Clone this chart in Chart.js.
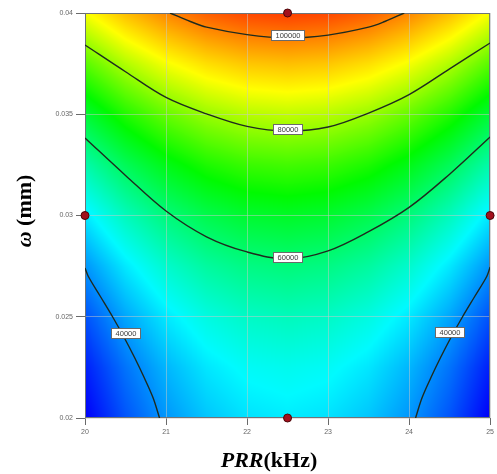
<!DOCTYPE html>
<html>
<head>
<meta charset="utf-8">
<title>Removal rate contour: PRR vs spot diameter</title>
<script src="https://cdn.jsdelivr.net/npm/chart.js@4.4.1/dist/chart.umd.min.js"></script>
<style>
  html, body { margin: 0; padding: 0; background: #ffffff; }
  #wrap { width: 497px; height: 474px; }
</style>
</head>
<body>
<div id="wrap"><canvas id="chart" width="497" height="474"></canvas></div>
<script>
// Axis ticks
const prrTicks = [20, 21, 22, 23, 24, 25];
const omegaTicks = [0.02, 0.025, 0.03, 0.035, 0.04];

// Response surface sampled on a regular grid (rows: omega, cols: PRR)
const gridPRR = [20, 20.5, 21, 21.5, 22, 22.5, 23, 23.5, 24, 24.5, 25];
const gridOmega = [0.02, 0.0225, 0.025, 0.0275, 0.03, 0.0325, 0.035, 0.0375, 0.04];
const gridValues = [
  [28800, 35500, 40700, 44400, 46600, 47400, 46600, 44400, 40700, 35500, 28800],
  [31300, 38000, 43200, 47000, 49200, 49900, 49200, 47000, 43200, 38000, 31300],
  [35300, 42000, 47200, 50900, 53100, 53900, 53100, 50900, 47200, 42000, 35300],
  [40600, 47200, 52500, 56200, 58400, 59200, 58400, 56200, 52500, 47200, 40600],
  [47200, 53900, 59100, 62800, 65100, 65800, 65100, 62800, 59100, 53900, 47200],
  [55200, 61900, 67100, 70900, 73100, 73800, 73100, 70900, 67100, 61900, 55200],
  [64600, 71300, 76500, 80300, 82500, 83200, 82500, 80300, 76500, 71300, 64600],
  [75400, 82100, 87300, 91000, 93300, 94000, 93300, 91000, 87300, 82100, 75400],
  [87500, 94200, 99400, 103200, 105400, 106100, 105400, 103200, 99400, 94200, 87500]
];

// Contour lines, [PRR, omega] pairs
const contour100000 = [[21.05, 0.0400], [21.3, 0.03958], [21.5, 0.0393], [22.0, 0.03893], [22.5, 0.03877],
  [23.0, 0.03891], [23.5, 0.0393], [23.7, 0.03958], [23.94, 0.0400]];
const contour80000 = [[20.0, 0.03842], [20.5, 0.0371], [21.0, 0.03583], [21.5, 0.03502], [22.0, 0.0344],
  [22.5, 0.03417], [23.0, 0.03437], [23.5, 0.03506], [24.0, 0.03597], [24.5, 0.03724], [25.0, 0.03852]];
const contour60000 = [[20.0, 0.03383], [20.5, 0.03198], [21.0, 0.03022], [21.5, 0.02895], [22.0, 0.0282],
  [22.5, 0.02785], [23.0, 0.02825], [23.5, 0.0292], [24.0, 0.0304], [24.5, 0.03204], [25.0, 0.03388]];
const contour40000a = [[20.0, 0.02741], [20.04, 0.0270], [20.19, 0.0260], [20.34, 0.0250], [20.48, 0.0240],
  [20.61, 0.0230], [20.73, 0.0220], [20.84, 0.0210], [20.92, 0.0200]];
const contour40000b = [[24.08, 0.0200], [24.16, 0.0210], [24.27, 0.0220], [24.39, 0.0230], [24.52, 0.0240],
  [24.66, 0.0250], [24.81, 0.0260], [24.96, 0.0270], [25.0, 0.02746]];

// Contour value labels
const labelTexts = ['100000', '80000', '60000', '40000', '40000'];
const labelPRR = [22.5, 22.5, 22.5, 20.5, 24.5];
const labelOmega = [0.0389, 0.03425, 0.02795, 0.0242, 0.02425];

// Design points
const designPRR = [22.5, 22.5, 20, 25];
const designOmega = [0.04, 0.02, 0.03, 0.03];

const colorMin = 29000, colorMax = 112000;
const colorStops = [
  [0.00, [0, 0, 250]],
  [0.235, [0, 250, 255]],
  [0.48, [0, 250, 0]],
  [0.71, [255, 255, 0]],
  [1.00, [255, 0, 0]]
];

function colorFor(v) {
  let t = (v - colorMin) / (colorMax - colorMin);
  t = Math.max(0, Math.min(1, t));
  for (let i = 1; i < colorStops.length; i++) {
    if (t <= colorStops[i][0]) {
      const [t0, c0] = colorStops[i - 1];
      const [t1, c1] = colorStops[i];
      const f = (t - t0) / (t1 - t0);
      return [c0[0] + (c1[0] - c0[0]) * f, c0[1] + (c1[1] - c0[1]) * f, c0[2] + (c1[2] - c0[2]) * f];
    }
  }
  return colorStops[colorStops.length - 1][1];
}

function locate(arr, v) {
  let i = 0;
  while (i < arr.length - 2 && v > arr[i + 1]) i++;
  const f = (v - arr[i]) / (arr[i + 1] - arr[i]);
  return [i, Math.max(0, Math.min(1, f))];
}

function surfaceAt(x, y) {
  const [i, fx] = locate(gridPRR, x);
  const [j, fy] = locate(gridOmega, y);
  const a = gridValues[j][i], b = gridValues[j][i + 1];
  const c = gridValues[j + 1][i], d = gridValues[j + 1][i + 1];
  return (a * (1 - fx) + b * fx) * (1 - fy) + (c * (1 - fx) + d * fx) * fy;
}

// Shaded surface beneath the grid lines
const surfacePlugin = {
  id: 'surface',
  beforeDraw(chart) {
    const { ctx, chartArea: a, scales: { x, y } } = chart;
    const w = Math.round(a.right - a.left), h = Math.round(a.bottom - a.top);
    const off = document.createElement('canvas');
    off.width = w; off.height = h;
    const octx = off.getContext('2d');
    const img = octx.createImageData(w, h);
    for (let py = 0; py < h; py++) {
      const yv = y.getValueForPixel(a.top + py + 0.5);
      for (let px = 0; px < w; px++) {
        const xv = x.getValueForPixel(a.left + px + 0.5);
        const c = colorFor(surfaceAt(xv, yv));
        const k = (py * w + px) * 4;
        img.data[k] = c[0]; img.data[k + 1] = c[1]; img.data[k + 2] = c[2]; img.data[k + 3] = 255;
      }
    }
    octx.putImageData(img, 0, 0);
    ctx.save();
    ctx.drawImage(off, a.left, a.top, w, h);
    ctx.restore();
  },
  beforeDatasetsDraw(chart) {
    const { ctx, chartArea: a } = chart;
    ctx.save();
    ctx.strokeStyle = '#6d7478';
    ctx.lineWidth = 1;
    ctx.strokeRect(a.left + 0.5, a.top + 0.5, a.right - a.left - 1, a.bottom - a.top - 1);
    ctx.restore();
  }
};

// Value boxes on the contour lines and the axis titles
const annotatePlugin = {
  id: 'annotate',
  afterDatasetsDraw(chart) {
    const { ctx, scales: { x, y } } = chart;
    ctx.save();
    ctx.font = '7.5px "Liberation Sans", Arial, sans-serif';
    ctx.textAlign = 'center';
    ctx.textBaseline = 'middle';
    labelTexts.forEach((t, i) => {
      const cx = x.getPixelForValue(labelPRR[i]);
      const cy = y.getPixelForValue(labelOmega[i]);
      const tw = Math.round(ctx.measureText(t).width + 8);
      const th = 10;
      const bx = Math.round(cx - tw / 2), by = Math.round(cy - th / 2);
      ctx.fillStyle = '#ffffff';
      ctx.fillRect(bx, by, tw, th);
      ctx.strokeStyle = '#6a6a6a';
      ctx.lineWidth = 1;
      ctx.strokeRect(bx + 0.5, by + 0.5, tw, th);
      ctx.fillStyle = '#3a3a3a';
      ctx.fillText(t, bx + tw / 2 + 0.5, by + th / 2 + 1);
    });
    ctx.restore();
  },
  afterDraw(chart) {
    const { ctx } = chart;
    ctx.save();
    ctx.fillStyle = '#000000';
    ctx.textBaseline = 'alphabetic';
    // x title: PRR(kHz)
    const fItal = 'italic bold 22px "Liberation Serif", "Times New Roman", serif';
    const fBold = 'bold 22px "Liberation Serif", "Times New Roman", serif';
    ctx.font = fItal; const w1 = ctx.measureText('PRR').width;
    ctx.font = fBold; const w2 = ctx.measureText('(kHz)').width;
    let sx = 269 - (w1 + w2) / 2;
    ctx.textAlign = 'left';
    ctx.font = fItal; ctx.fillText('PRR', sx, 467);
    ctx.font = fBold; ctx.fillText('(kHz)', sx + w1, 467);
    // y title: ω (mm)
    ctx.translate(31, 211);
    ctx.rotate(-Math.PI / 2);
    ctx.font = fItal; const w3 = ctx.measureText('ω ').width;
    ctx.font = fBold; const w4 = ctx.measureText('(mm)').width;
    sx = -(w3 + w4) / 2;
    ctx.font = fItal; ctx.fillText('ω ', sx, 0);
    ctx.font = fBold; ctx.fillText('(mm)', sx + w3, 0);
    ctx.restore();
  }
};

function toPoints(arr) { return arr.map(p => ({ x: p[0], y: p[1] })); }

const lineStyle = {
  type: 'line',
  borderColor: '#1e2b1e',
  borderWidth: 1.4,
  pointRadius: 0,
  tension: 0.35,
  fill: false
};

const datasets = [
  Object.assign({ label: '100000', data: toPoints(contour100000) }, lineStyle),
  Object.assign({ label: '80000', data: toPoints(contour80000) }, lineStyle),
  Object.assign({ label: '60000', data: toPoints(contour60000) }, lineStyle),
  Object.assign({ label: '40000', data: toPoints(contour40000a) }, lineStyle),
  Object.assign({ label: '40000 ', data: toPoints(contour40000b) }, lineStyle),
  {
    type: 'scatter',
    label: 'design points',
    data: designPRR.map((v, i) => ({ x: v, y: designOmega[i] })),
    pointRadius: 4,
    pointBackgroundColor: '#a3101c',
    pointBorderColor: '#4a0508',
    pointBorderWidth: 1,
    clip: false
  }
];

const tickFont = { family: '"Liberation Sans", Arial, sans-serif', size: 7 };

new Chart(document.getElementById('chart'), {
  data: { datasets },
  options: {
    responsive: false,
    animation: false,
    events: [],
    layout: { padding: { left: 0, right: 6, top: 13, bottom: 0 } },
    plugins: { legend: { display: false }, tooltip: { enabled: false } },
    scales: {
      x: {
        type: 'linear',
        min: prrTicks[0],
        max: prrTicks[prrTicks.length - 1],
        afterBuildTicks(s) { s.ticks = prrTicks.map(v => ({ value: v })); },
        afterFit(s) { s.height = 56; },
        ticks: { font: tickFont, color: '#666666', padding: 3, maxRotation: 0, callback: v => String(v) },
        grid: { color: 'rgba(200,200,200,0.5)', tickColor: '#6a6a6a', tickLength: 7, lineWidth: 1 },
        border: { display: false }
      },
      y: {
        type: 'linear',
        min: omegaTicks[0],
        max: omegaTicks[omegaTicks.length - 1],
        afterBuildTicks(s) { s.ticks = omegaTicks.map(v => ({ value: v })); },
        afterFit(s) { s.width = 85; },
        ticks: { font: tickFont, color: '#666666', padding: 3, callback: v => String(v) },
        grid: { color: 'rgba(200,200,200,0.5)', tickColor: '#6a6a6a', tickLength: 9, lineWidth: 1 },
        border: { display: false }
      }
    }
  },
  plugins: [surfacePlugin, annotatePlugin]
});
</script>
</body>
</html>
